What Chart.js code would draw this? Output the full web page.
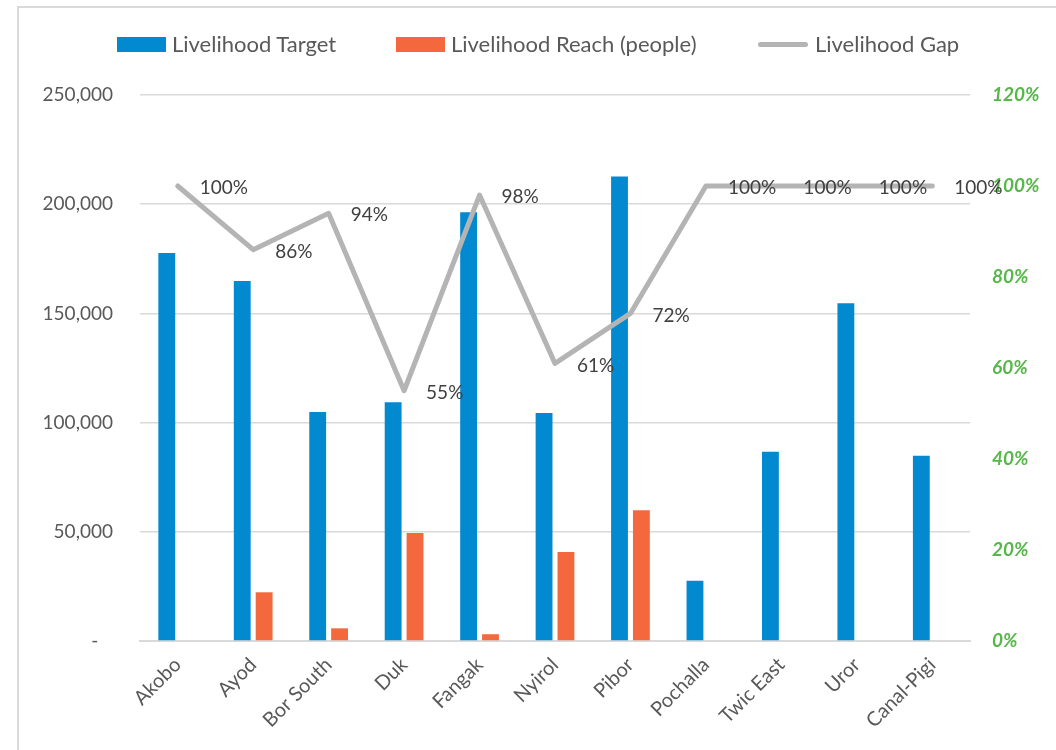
<!DOCTYPE html>
<html>
<head>
<meta charset="utf-8">
<script src="https://cdn.jsdelivr.net/npm/chart.js@4/dist/chart.umd.min.js"></script>
<style>
  html, body { margin: 0; padding: 0; background: #fff; }
  #wrap { position: relative; width: 1056px; height: 750px; overflow: hidden; }
  #frame { position: absolute; left: 17px; top: 6px; width: 1100px; height: 800px;
    border-left: 2px solid #d9d9d9; border-top: 2px solid #d9d9d9; pointer-events: none; }
  .leg { position: absolute; font-family: Lato, sans-serif; font-size: 22px; color: #595959;
    line-height: 24px; white-space: nowrap; }
  .sw { position: absolute; }
</style>
</head>
<body>
<div id="wrap">
  <canvas id="chart" width="1056" height="750"></canvas>
  <div id="frame"></div>
  <div class="sw" style="left:117px;top:37px;width:49px;height:15px;background:#0289cf"></div>
  <div class="leg" style="left:172px;top:32px">Livelihood Target</div>
  <div class="sw" style="left:396px;top:37px;width:49px;height:15px;background:#f3683c"></div>
  <div class="leg" style="left:451px;top:32px">Livelihood Reach (people)</div>
  <div class="sw" style="left:758px;top:42px;width:50px;height:5px;border-radius:3px;background:#b4b4b4"></div>
  <div class="leg" style="left:815px;top:32px">Livelihood Gap</div>
</div>
<script>
// chart data
const counties = ['Akobo', 'Ayod', 'Bor South', 'Duk', 'Fangak', 'Nyirol', 'Pibor', 'Pochalla', 'Twic East', 'Uror', 'Canal-Pigi'];
const targetValues = [177600, 164800, 104900, 109300, 196300, 104400, 212700, 27600, 86700, 154600, 84800];
const reachValues = [0, 22300, 5800, 49400, 3100, 40700, 59900, 0, 0, 0, 0];
const gapValues = [100, 86, 94, 55, 98, 61, 72, 100, 100, 100, 100];
const leftTicks = [0, 50000, 100000, 150000, 200000, 250000];
const rightTicks = [0, 20, 40, 60, 80, 100, 120];

const FONT = 'Lato, sans-serif';
const GREY_TEXT = '#595959';
const GRID = '#d9d9d9';

// draws the % label to the right of each gap point
const gapLabels = {
  id: 'gapLabels',
  afterDatasetsDraw(chart) {
    const meta = chart.getDatasetMeta(2);
    const ctx = chart.ctx;
    ctx.save();
    ctx.font = '19px ' + FONT;
    ctx.fillStyle = '#404040';
    ctx.textAlign = 'left';
    ctx.textBaseline = 'middle';
    meta.data.forEach((pt, i) => {
      ctx.fillText(gapValues[i] + '%', pt.x + 22, pt.y + 2);
    });
    ctx.restore();
  }
};

const ctx = document.getElementById('chart').getContext('2d');
new Chart(ctx, {
  type: 'bar',
  data: {
    labels: counties,
    datasets: [
      {
        label: 'Livelihood Target',
        data: targetValues,
        backgroundColor: '#0289cf',
        yAxisID: 'y',
        order: 1,
        categoryPercentage: 0.58,
        barPercentage: 0.77
      },
      {
        label: 'Livelihood Reach (people)',
        data: reachValues,
        backgroundColor: '#f3683c',
        yAxisID: 'y',
        order: 1,
        categoryPercentage: 0.58,
        barPercentage: 0.77
      },
      {
        type: 'line',
        label: 'Livelihood Gap',
        data: gapValues,
        borderColor: '#b4b4b4',
        backgroundColor: '#b4b4b4',
        borderWidth: 5,
        borderJoinStyle: 'round',
        borderCapStyle: 'round',
        pointRadius: 0,
        tension: 0,
        yAxisID: 'y1',
        order: 0
      }
    ]
  },
  options: {
    responsive: false,
    animation: false,
    layout: { padding: { top: 95, left: 0, right: 0, bottom: 0 } },
    plugins: {
      legend: { display: false },
      tooltip: { enabled: false }
    },
    scales: {
      x: {
        grid: { display: false },
        border: { color: GRID, width: 2 },
        ticks: {
          color: GREY_TEXT,
          font: { family: FONT, size: 20 },
          minRotation: 45,
          maxRotation: 45,
          padding: 4
        },
        afterFit(scale) { scale.height = 109; }
      },
      y: {
        position: 'left',
        min: 0,
        max: 250000,
        afterBuildTicks(scale) { scale.ticks = leftTicks.map(v => ({ value: v })); },
        grid: { color: GRID, lineWidth: 1.5, drawTicks: false },
        border: { display: false },
        ticks: {
          color: GREY_TEXT,
          font: { family: FONT, size: 19 },
          padding: 27,
          callback: v => v === 0 ? '-   ' : v.toLocaleString('en-US')
        },
        afterFit(scale) { scale.width = 140; }
      },
      y1: {
        position: 'right',
        min: 0,
        max: 120,
        afterBuildTicks(scale) { scale.ticks = rightTicks.map(v => ({ value: v })); },
        grid: { display: false, drawTicks: false },
        border: { display: false },
        ticks: {
          color: '#56b849',
          font: { family: FONT, size: 19, style: 'italic', weight: 'bold' },
          padding: 22,
          callback: v => v + '%'
        },
        afterFit(scale) { scale.width = 86; }
      }
    }
  },
  plugins: [gapLabels]
});
</script>
</body>
</html>
